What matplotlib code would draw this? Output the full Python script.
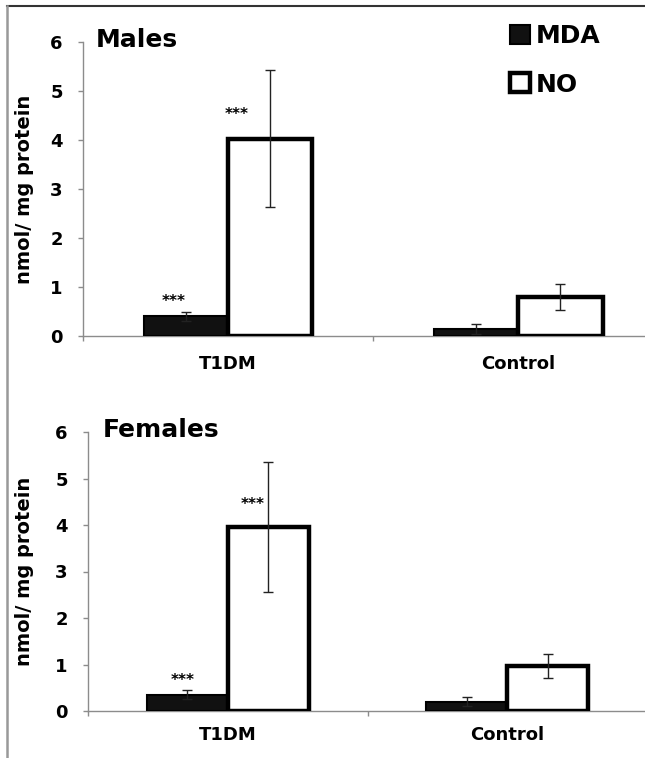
import matplotlib
matplotlib.use('Agg')
import matplotlib.pyplot as plt
from matplotlib.lines import Line2D
import numpy as np

# data
categories = ['T1DM', 'Control']
series = ['MDA', 'NO']

males_mda = [0.40, 0.15]
males_mda_err = [0.09, 0.10]
males_no = [4.03, 0.80]
males_no_err = [1.40, 0.27]

females_mda = [0.35, 0.20]
females_mda_err = [0.10, 0.10]
females_no = [3.95, 0.97]
females_no_err = [1.40, 0.26]

# significance marks (only on T1DM)
stars = ['***', '']

yticks = [0, 1, 2, 3, 4, 5, 6]
ylabel = 'nmol/ mg protein'

W, H = 645, 758
fig = plt.figure(figsize=(W / 100, H / 100), dpi=100)

axis_grey = '#8c8c8c'
bar_w = 0.29
x = np.arange(len(categories)) + 0.5


def px_box(left, right, y0, y6):
    # convert pixel extents into figure fractions
    return [left / W, (H - y0) / H, (right - left) / W, (y0 - y6) / H]


def draw_panel(ax, title, mda, mda_err, no, no_err, star_dx, title_xy, ylabel_x, xlab_pad):
    b1 = ax.bar(x - bar_w / 2, mda, bar_w, color='#111111', edgecolor='#000000',
                linewidth=1.5, label='MDA', zorder=2)
    b2 = ax.bar(x + bar_w / 2, no, bar_w, color='white', edgecolor='#000000',
                linewidth=3.2, label='NO', zorder=2)
    ax.errorbar(x - bar_w / 2, mda, yerr=mda_err, fmt='none', ecolor='#222222',
                elinewidth=1, capsize=3.6, capthick=1, zorder=3)
    ax.errorbar(x + bar_w / 2, no, yerr=no_err, fmt='none', ecolor='#222222',
                elinewidth=1, capsize=3.6, capthick=1, zorder=3)

    # asterisks over the T1DM bars
    for i, s in enumerate(stars):
        if not s:
            continue
        ax.text(x[i] - bar_w / 2 + star_dx[0], mda[i] + 0.3, s, ha='center', va='center',
                fontsize=11, fontweight='bold')
        ax.text(x[i] + bar_w / 2 + star_dx[1], no[i] + 0.5, s, ha='center', va='center',
                fontsize=11, fontweight='bold')

    ax.set_xlim(0, len(categories))
    ax.set_ylim(0, 6)
    ax.set_yticks(yticks)
    ax.set_yticklabels([str(t) for t in yticks], fontsize=13, fontweight='bold')
    ax.set_xticks([0, 1, 2])
    ax.set_xticklabels([])
    ax.set_xticks(x, minor=True)
    ax.set_xticklabels(categories, minor=True, fontsize=13, fontweight='bold')
    ax.tick_params(axis='x', which='minor', length=0, pad=xlab_pad)
    ax.tick_params(axis='x', which='major', length=3.6, color=axis_grey, width=1)
    ax.tick_params(axis='y', length=3.6, color=axis_grey, width=1, pad=11)

    for side in ['top', 'right']:
        ax.spines[side].set_visible(False)
    for side in ['left', 'bottom']:
        ax.spines[side].set_color(axis_grey)
        ax.spines[side].set_linewidth(1)
        ax.spines[side].set_zorder(1)

    ax.set_ylabel(ylabel, fontsize=14, fontweight='bold')
    ax.yaxis.set_label_coords(ylabel_x, 0.5)
    ax.text(title_xy[0], title_xy[1], title, transform=ax.transAxes, fontsize=18,
            fontweight='bold', ha='left', va='baseline')
    return b1, b2


ax1 = fig.add_axes(px_box(83, 663.5, 336, 42))
h1, h2 = draw_panel(ax1, 'Males', males_mda, males_mda_err, males_no, males_no_err,
                    (-0.042, -0.115), (0.0224, 0.983), -0.084, 14)

ax2 = fig.add_axes(px_box(88, 647, 711, 432))
draw_panel(ax2, 'Females', females_mda, females_mda_err, females_no, females_no_err,
           (-0.017, -0.055), (0.027, 0.982), -0.097, 11)

fig.legend([h1, h2], series, loc='upper left', bbox_to_anchor=(510 / W, 1 - 24 / H),
           frameon=False, prop={'weight': 'bold', 'size': 18},
           handlelength=0.78, handleheight=0.78, handletextpad=0.25,
           labelspacing=0.98, borderpad=0, borderaxespad=0)

# frame lines around the figure panel
fig.add_artist(Line2D([7 / W, 1], [1 - 6 / H, 1 - 6 / H], color='#333333', linewidth=1.5))
fig.add_artist(Line2D([7 / W, 7 / W], [0, 1 - 6 / H], color='#999999', linewidth=1.8))

fig.savefig('out.png', dpi=100)
